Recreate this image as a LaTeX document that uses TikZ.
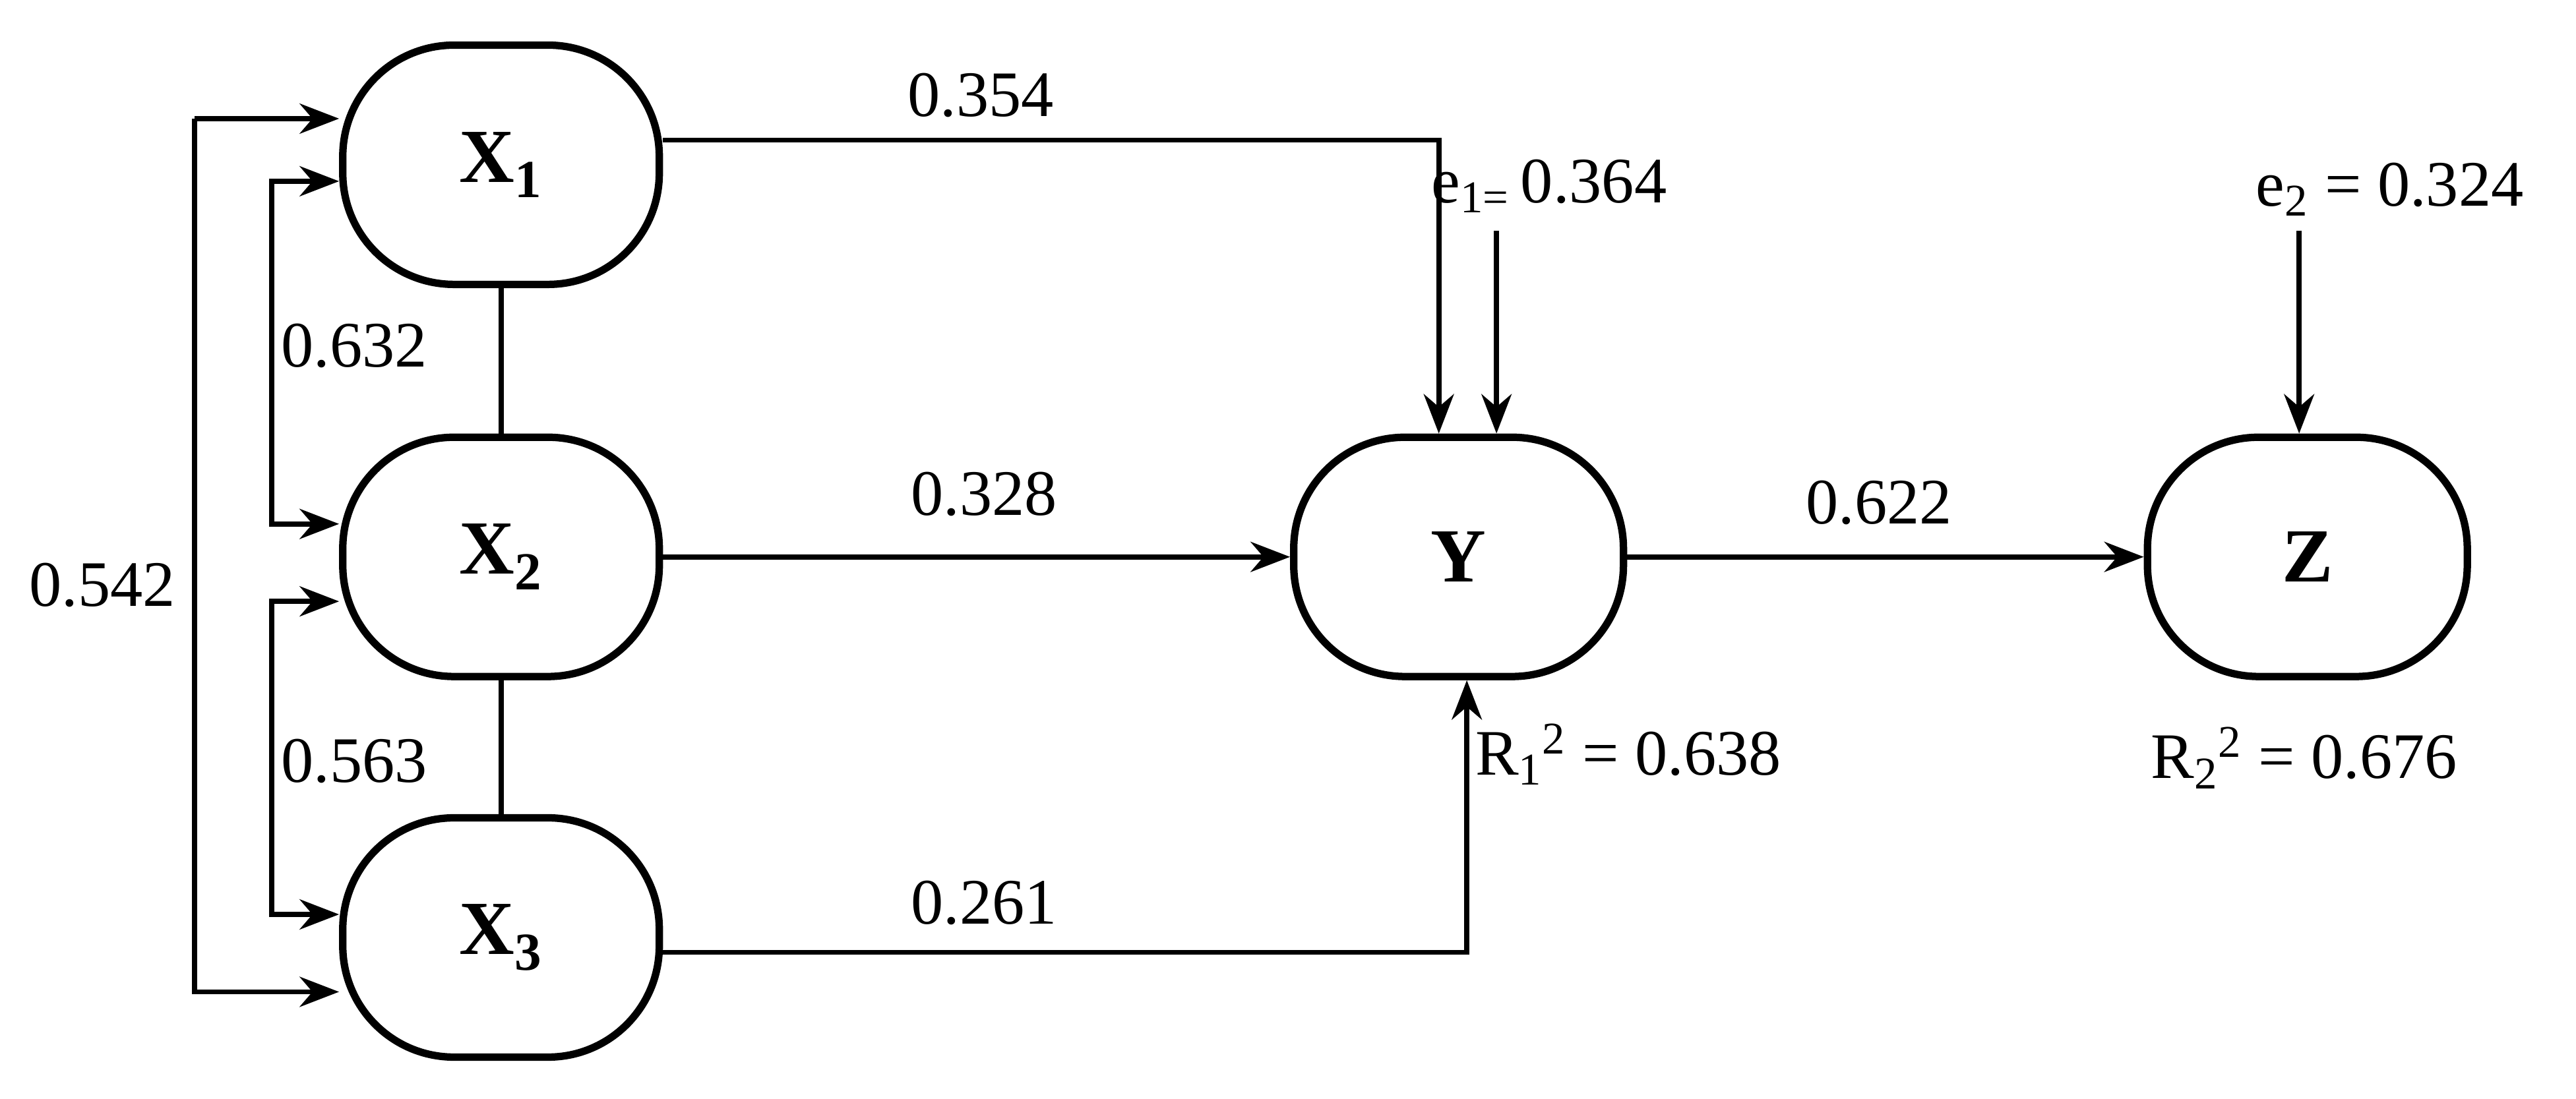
\documentclass[tikz,border=0pt]{standalone}
\usepackage{fontspec}
\setmainfont{Liberation Serif}
\usetikzlibrary{arrows.meta}
\begin{document}
\begin{tikzpicture}[x=0.025cm,y=-0.025cm,
  box/.style={draw,line width=3.2pt,rounded corners=48pt,minimum width=4.8cm,minimum height=3.63cm,font=\fontsize{33}{40}\selectfont\bfseries},
  ar/.style={line width=2.2pt,-{Stealth[length=17pt,width=13pt]}},
  ln/.style={line width=2.2pt},
  lab/.style={font=\fontsize{28}{34}\selectfont}]
\useasboundingbox (0,0) rectangle (1563,667);
\node[box] (x1) at (304,100) {X\textsubscript{1}};
\node[box] (x2) at (304,338) {X\textsubscript{2}};
\node[box] (x3) at (304,569) {X\textsubscript{3}};
\node[box,minimum width=5cm] (y) at (885,338) {Y};
\node[box,minimum width=4.85cm] (z) at (1400,338) {Z};
\draw[ln] (x1.south) -- (x2.north);
\draw[ln] (x2.south) -- (x3.north);
\coordinate (o1) at (118,72); \coordinate (o2) at (118,602);
\draw[ar] (o1) -- (x1.west|-o1);
\draw[ar] (o1) -- (o2) -- (x3.west|-o2);
\coordinate (a1) at (165,110); \coordinate (a2) at (165,318);
\draw[ar] (a2) -- (a1) -- (x1.west|-a1);
\draw[ar] (a1) -- (a2) -- (x2.west|-a2);
\coordinate (b1) at (165,365); \coordinate (b2) at (165,555);
\draw[ar] (b2) -- (b1) -- (x2.west|-b1);
\draw[ar] (b1) -- (b2) -- (x3.west|-b2);
\node[lab] (l542) at (62,355) {0.542};
\node[lab] (l632) at (215,210) {0.632};
\node[lab] (l563) at (215,462) {0.563};
\coordinate (c1) at (873,85);
\draw[ar] (x1.east|-c1) -- (c1) -- (y.north-|c1);
\node[lab] (l354) at (595,58) {0.354};
\coordinate (e1) at (908,140);
\draw[ar] (e1) -- (y.north-|e1);
\node[lab] (le1) at (940,113) {e\textsubscript{1=}\,0.364};
\draw[ar] (x2.east|-y) -- (y.west);
\node[lab] (l328) at (597,300) {0.328};
\coordinate (c3) at (890,578);
\draw[ar] (x3.east|-c3) -- (c3) -- (y.south-|c3);
\node[lab] (l261) at (597,548) {0.261};
\node[lab] (r1) at (988,458) {R\textsubscript{1}\textsuperscript{2} = 0.638};
\draw[ar] (y.east) -- (z.west);
\node[lab] (l622) at (1140,305) {0.622};
\coordinate (e2) at (1395,140);
\draw[ar] (e2) -- (z.north-|e2);
\node[lab] (le2) at (1450,115) {e\textsubscript{2} = 0.324};
\node[lab] (r2) at (1398,460) {R\textsubscript{2}\textsuperscript{2} = 0.676};
\end{tikzpicture}
\end{document}
